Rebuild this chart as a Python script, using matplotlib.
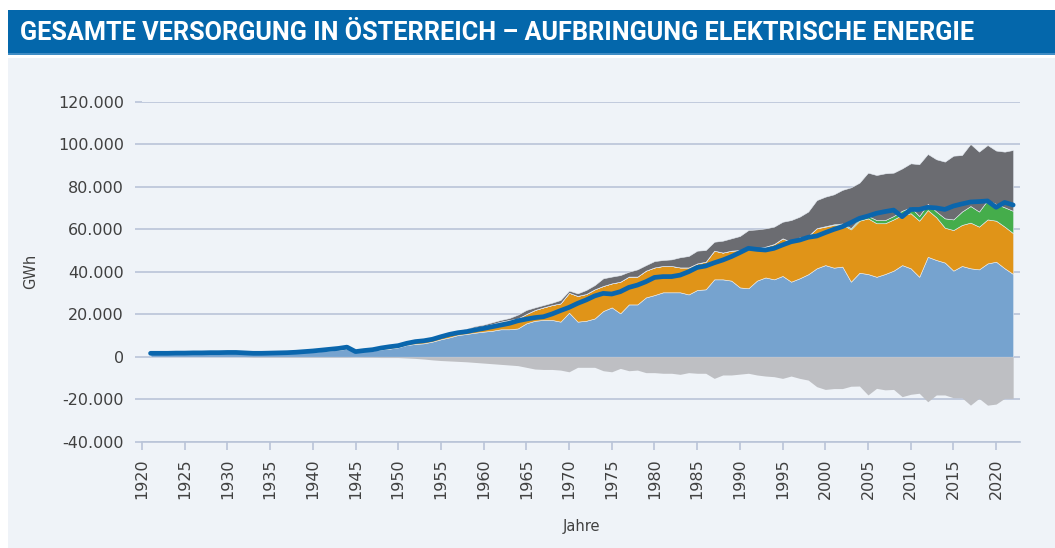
import matplotlib
matplotlib.use("Agg")
import matplotlib.pyplot as plt
from matplotlib import ticker
from matplotlib.patches import Rectangle
import numpy as np

# years 1921 .. 2022
years = np.arange(1921, 2023)

# Wasserkraft
hydro = [1400, 1400, 1400, 1500, 1500, 1600, 1600, 1700, 1700, 1800,
         1800, 1600, 1500, 1500, 1600, 1700, 1800, 1900, 2100, 2300,
         2600, 2900, 3200, 3700, 2200, 2600, 2900, 3400, 3800,
         4400, 5500, 6000, 6300, 7100, 8200, 9100, 10200, 10700, 11300,
         11800, 12200, 12900, 12900, 13300, 15700, 16900, 17300, 17300, 16500,
         20700, 16500, 16900, 18000,
         21500, 23200, 20400, 24600, 24600, 27900, 29000, 30300, 30300, 30300,
         29300, 31400, 31700, 36400, 36400, 35800, 32600, 32200, 35800, 37300,
         36400, 38000, 35300, 36900, 38800,
         41600, 43100, 41900, 42400, 35300, 39500, 38900, 37600, 38900, 40500,
         43100, 41600, 37600, 47000, 45500, 44300, 40500, 42700, 41600, 41100,
         43900, 44700, 41600, 38900]

# Waermekraft
thermal = [200, 200, 200, 200, 200, 200, 200, 200, 200, 200,
           200, 200, 200, 200, 200, 200, 200, 300, 400, 500,
           600, 700, 800, 900, 300, 400, 600, 800, 900,
           800, 900, 1000, 1200, 1200, 1300, 1600, 1700, 2200, 2500,
           2600, 3200, 3600, 4400, 4700, 4400, 5100, 5900, 7000, 8600,
           9400, 12100, 12600, 13700,
           11800, 11300, 14900, 13100, 13100, 12600, 13000, 12400, 12400, 11700,
           12700, 12500, 13000, 13500, 12600, 14100, 17600, 18800, 15200, 14500,
           16600, 17700, 18800, 19300, 18000,
           18800, 18100, 20100, 19900, 24600, 24500, 26200, 25200, 23900, 24100,
           23600, 25900, 26400, 22000, 20100, 16400, 19100, 19300, 21500, 20100,
           20700, 19300, 19600, 19200]

# Wind, Photovoltaik
green = [0] * 78 + [100, 200, 300, 400, 600, 900, 1100, 1500, 1500, 1600,
                    2000, 2800, 2200, 2900, 2700, 4400, 5000, 6300, 7800, 7100,
                    9100, 7900, 9100, 10500]

# Import
imports = [0] * 12 + [50] * 17 + \
          [200, 200, 200, 200, 200, 300, 300, 300, 300, 600,
           700, 800, 800, 900, 1800, 1900, 1200, 1100, 1100, 1600,
           1000, 1200, 1900, 2000,
           3600, 3200, 3100, 2300, 3400, 2600, 3000, 2800, 3100, 4800,
           5400, 6000, 5500, 4200, 5600, 5800, 6600, 8600, 8900, 8600,
           8200, 7800, 10200, 9700, 11500,
           13200, 13900, 14100, 15800, 19200, 17000, 20400, 21200, 22000, 20400,
           19900, 20700, 24400, 23500, 24600, 26700, 30000, 26600, 29200, 28200,
           25900, 25100, 26200, 28700]

# Export
exports = [-100] * 12 + [-300] * 12 + [-200, -300, -300, -400, -400] + \
          [-400, -600, -800, -1100, -1500, -1800, -2000, -2200, -2400, -2700,
           -3000, -3300, -3600, -3900, -4200, -5000, -5800, -6000, -6000, -6300,
           -7100, -5000, -5000, -5000,
           -6600, -7100, -5500, -6600, -6300, -7500, -7500, -7800, -7800, -8300,
           -7500, -7800, -7800, -10200, -8600, -8600, -8200, -7800, -8600, -9100,
           -9400, -10200, -9100, -10200, -11000,
           -14100, -15400, -15000, -15000, -13900, -13800, -18000, -14900, -15600, -15400,
           -18800, -17700, -17200, -21200, -18000, -18000, -19300, -19300, -22800, -19600,
           -22800, -22300, -19600, -19600]

# Inlandsverbrauch
consumption = [1600, 1600, 1600, 1700, 1700, 1800, 1800, 1900, 1900, 2000,
               2000, 1800, 1600, 1600, 1700, 1800, 1900, 2100, 2400, 2700,
               3100, 3500, 3900, 4500, 2400, 2900, 3300, 4100, 4700,
               5200, 6300, 7100, 7500, 8200, 9400, 10500, 11300, 11800, 12600,
               13300, 14100, 14900, 15700, 16900, 17700, 18400, 18800, 20100, 21700,
               23200, 25100, 26700, 28600,
               29800, 29500, 30600, 32600, 33700, 35300, 37300, 37700, 37700, 38400,
               40000, 42000, 42700, 44200, 45500, 47100, 49000, 51000, 50500, 50200,
               51000, 52600, 54100, 54900, 56200,
               56800, 58400, 59900, 61200, 63100, 65100, 66200, 67500, 68300, 69000,
               65900, 69300, 69300, 70300, 70000, 69300, 70900, 71900, 72800, 73000,
               73300, 70300, 72600, 71400]

BG = '#eff3f8'
GRID = '#b9c4d8'
COLORS = ['#76a3cf', '#e09418', '#45ad4b', '#6b6c71']

fig = plt.figure(figsize=(10.55, 5.48), dpi=100)
fig.patch.set_facecolor('white')

# panel + title bar
fig.patches.append(Rectangle((8 / 1055, 0), 1, 1 - 58 / 548,
                             transform=fig.transFigure, facecolor=BG,
                             edgecolor='none', zorder=-10))
fig.patches.append(Rectangle((8 / 1055, 1 - 55 / 548), 1, 45 / 548,
                             transform=fig.transFigure, facecolor='#0467ab',
                             edgecolor='none', zorder=-5))
fig.patches.append(Rectangle((8 / 1055, 1 - 55 / 548), 1, 2 / 548,
                             transform=fig.transFigure, facecolor='#3f8cc4',
                             edgecolor='none', zorder=-4))
fig.text(20 / 1055, 1 - 33 / 548,
         'GESAMTE VERSORGUNG IN ÖSTERREICH – AUFBRINGUNG ELEKTRISCHE ENERGIE',
         color='white', fontsize=18.2, fontweight='bold', va='center', ha='left',
         family=['Roboto', 'DejaVu Sans'])

ax = fig.add_axes([142 / 1055, 1 - 441.7 / 548, (1020 - 142) / 1055, 340 / 548])
ax.set_facecolor(BG)

ax.stackplot(years, hydro, thermal, green, imports, colors=COLORS,
             linewidth=0.4, edgecolor='#e8eef6', zorder=2)
ax.fill_between(years, exports, 0, color='#bebfc3', linewidth=0, zorder=2)
ax.plot(years, consumption, color='#0a66ad', linewidth=3.4,
        solid_capstyle='round', solid_joinstyle='round', zorder=3)

ax.set_xlim(1920, 2022.8)
ax.set_ylim(-40000, 120000)
ax.set_yticks(np.arange(-40000, 120001, 20000))
ax.yaxis.set_major_formatter(ticker.FuncFormatter(
    lambda v, p: f'{v:,.0f}'.replace(',', '.')))
ax.set_xticks(np.arange(1920, 2021, 5))
ax.grid(axis='y', color=GRID, linewidth=1.2, zorder=0)
ax.set_axisbelow(True)
for s in ['top', 'right', 'left']:
    ax.spines[s].set_visible(False)
ax.spines['bottom'].set_color(GRID)
ax.spines['bottom'].set_linewidth(1.2)

ax.tick_params(axis='y', colors=GRID, labelcolor='#404040', labelsize=11.5,
               length=5, width=1.2, pad=8)
ax.tick_params(axis='x', colors=GRID, labelcolor='#404040', labelsize=11.5,
               length=6, width=1.2, labelrotation=90, pad=6)

ax.set_xlabel('Jahre', fontsize=10.5, color='#404040', labelpad=14)
ax.set_ylabel('GWh', fontsize=10.5, color='#404040', labelpad=14)

fig.savefig('out.png', dpi=100, facecolor=fig.get_facecolor())
